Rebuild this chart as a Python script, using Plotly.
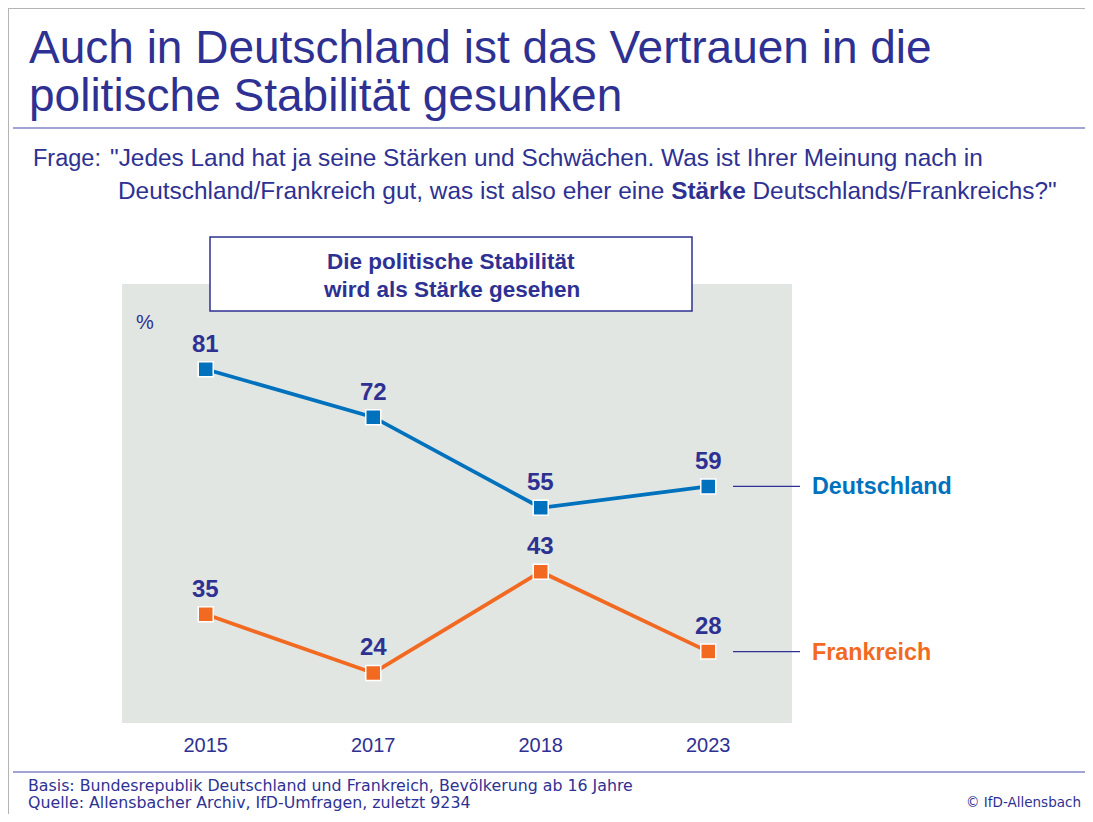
import plotly.graph_objects as go

# page is shown with an 8px body margin, so the figure is 16px smaller than the window
W, H = 1077, 806
OFF = 8

years = ["2015", "2017", "2018", "2023"]
deutschland = [81, 72, 55, 59]
frankreich = [35, 24, 43, 28]
series_names = ["Deutschland", "Frankreich"]

TXT = "#2e3192"
BLUE = "#0071bc"
ORANGE = "#f26a22"
BG = "#e1e6e3"
FONT = "Liberation Sans"
FOOT_FONT = "DejaVu Sans"

def px(x):
    return (x - OFF) / W

def py(y):
    return 1 - (y - OFF) / H

xs = list(range(len(years)))

fig = go.Figure()
for vals, col in [(deutschland, BLUE), (frankreich, ORANGE)]:
    fig.add_trace(go.Scatter(
        x=xs, y=vals, mode="lines+markers",
        line=dict(color=col, width=3.8),
        marker=dict(symbol="square", size=15, color=col, line=dict(color="white", width=1.5)),
        hoverinfo="skip", showlegend=False, cliponaxis=False,
    ))

annotations = []
for vals in (deutschland, frankreich):
    for i, v in enumerate(vals):
        annotations.append(dict(x=i, y=v, xref="x", yref="y", text=f"<b>{v}</b>",
                                showarrow=False, yshift=26,
                                font=dict(family=FONT, size=24, color=TXT)))

# series end labels
for name, vals, col in [(series_names[0], deutschland, BLUE), (series_names[1], frankreich, ORANGE)]:
    annotations.append(dict(x=px(810), y=vals[-1], xref="paper", yref="y", text=f"<b>{name}</b>",
                            showarrow=False, xanchor="left", yanchor="middle",
                            font=dict(family=FONT, size=23.3, color=col)))

def txt(x, y, text, size, anchor="left", bold=False, color=TXT, family=FONT):
    return dict(x=px(x), y=py(y), xref="paper", yref="paper", xanchor=anchor, yanchor="middle",
                showarrow=False, text=f"<b>{text}</b>" if bold else text,
                font=dict(family=family, size=size, color=color))

# title
annotations.append(txt(27, 47, "Auch in Deutschland ist das Vertrauen in die", 46))
annotations.append(txt(27, 95, "politische Stabilität gesunken", 46))
# question
annotations.append(txt(31, 158, "Frage:", 23.5))
annotations.append(txt(108, 158, "\"Jedes Land hat ja seine Stärken und Schwächen. Was ist Ihrer Meinung nach in", 24.4))
annotations.append(txt(116, 190, "Deutschland/Frankreich gut, was ist also eher eine <b>Stärke</b> Deutschlands/Frankreichs?\"", 24.4))
# box label
annotations.append(txt(451, 261, "Die politische Stabilität", 22.5, anchor="center", bold=True))
annotations.append(txt(451, 289, "wird als Stärke gesehen", 22.5, anchor="center", bold=True))
# percent sign
annotations.append(txt(145, 322, "%", 20, anchor="center"))
# footer
annotations.append(txt(26, 785, "Basis: Bundesrepublik Deutschland und Frankreich, Bevölkerung ab 16 Jahre", 15.8,
                       family=FOOT_FONT))
annotations.append(txt(26, 802, "Quelle: Allensbacher Archiv, IfD-Umfragen, zuletzt 9234", 15.8,
                       family=FOOT_FONT))
annotations.append(txt(1083, 802, "© IfD-Allensbach", 13.5, anchor="right", family=FOOT_FONT))

shapes = [
    # frame
    dict(type="line", xref="paper", yref="paper", x0=0, x1=1, y0=1, y1=1,
         line=dict(color="#b4b4b4", width=2)),
    dict(type="line", xref="paper", yref="paper", x0=0, x1=0, y0=1, y1=0,
         line=dict(color="#b4b4b4", width=2)),
    # rules
    dict(type="line", xref="paper", yref="paper", x0=px(13), x1=1, y0=py(128), y1=py(128),
         line=dict(color="#8284c4", width=1.5)),
    dict(type="line", xref="paper", yref="paper", x0=px(13), x1=1, y0=py(772), y1=py(772),
         line=dict(color="#8284c4", width=1.5)),
    # box
    dict(type="rect", xref="paper", yref="paper", x0=px(210), x1=px(692), y0=py(311), y1=py(237),
         fillcolor="white", line=dict(color=TXT, width=1.5), layer="above"),
]
for vals in (deutschland, frankreich):
    shapes.append(dict(type="line", xref="paper", yref="y", x0=px(733), x1=px(800), y0=vals[-1], y1=vals[-1],
                       line=dict(color=TXT, width=1.2)))

fig.update_layout(
    width=W, height=H,
    margin=dict(l=0, r=0, t=0, b=0),
    paper_bgcolor="white", plot_bgcolor=BG,
    xaxis=dict(domain=[px(122), px(792)], range=[-0.5, 3.5], tickmode="array", tickvals=xs, ticktext=years,
               showgrid=False, zeroline=False, showline=False, ticks="", ticklen=0,
               ticklabelstandoff=8,
               tickfont=dict(family=FONT, size=20, color=TXT), fixedrange=True),
    yaxis=dict(domain=[py(723), py(284)], range=[14.6, 97], showgrid=False, zeroline=False,
               showline=False, showticklabels=False, fixedrange=True),
    annotations=annotations, shapes=shapes,
)
fig.write_html("out.html")
